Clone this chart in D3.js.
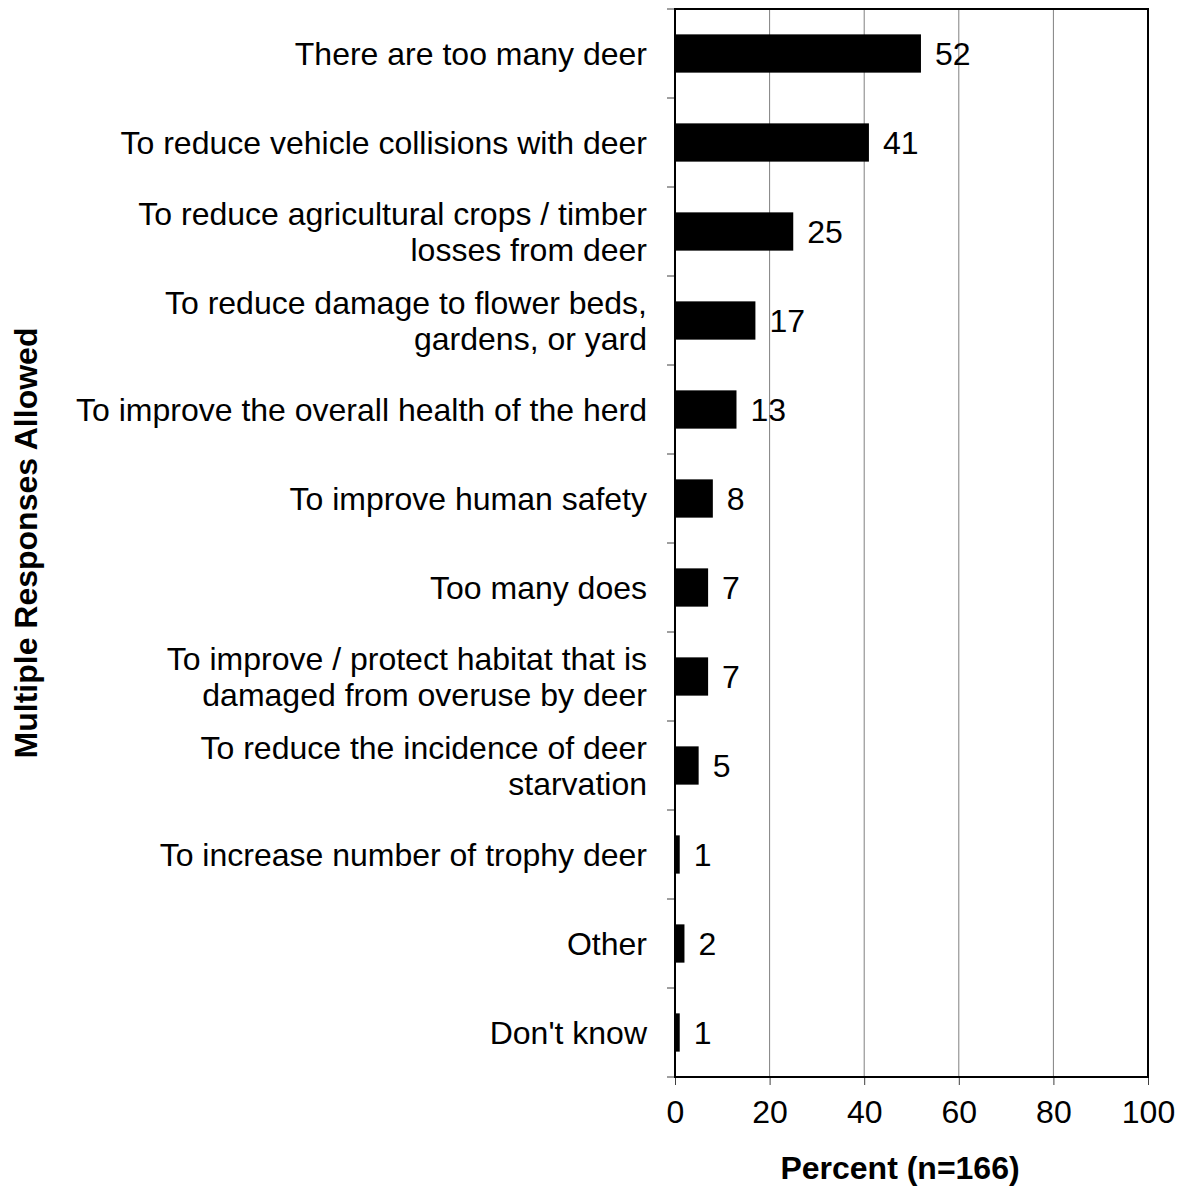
<!DOCTYPE html>
<html><head><meta charset="utf-8">
<script src="https://cdn.jsdelivr.net/npm/d3@7"></script>
<style>body{margin:0;background:#fff}svg{display:block}text{font-family:"Liberation Sans",Arial,sans-serif}</style>
</head><body><svg id="c" width="1180" height="1186"></svg>
<script>
const categories = [
  ["There are too many deer"],
  ["To reduce vehicle collisions with deer"],
  ["To reduce agricultural crops / timber","losses from deer"],
  ["To reduce damage to flower beds,","gardens, or yard"],
  ["To improve the overall health of the herd"],
  ["To improve human safety"],
  ["Too many does"],
  ["To improve / protect habitat that is","damaged from overuse by deer"],
  ["To reduce the incidence of deer","starvation"],
  ["To increase number of trophy deer"],
  ["Other"],
  ["Don't know"]
];
const values = [52, 41, 25, 17, 13, 8, 7, 7, 5, 1, 2, 1];
const xTicks = [0, 20, 40, 60, 80, 100];
const xTitle = "Percent (n=166)";
const yTitle = "Multiple Responses Allowed";

const svg = d3.select("#c");
const L = 675, R = 1148, T = 9, B = 1077;
const FS = 32;
const x = d3.scaleLinear().domain([0, 100]).range([L, R]);
const y = d3.scaleBand().domain(d3.range(categories.length)).range([T, B]).paddingInner(0.57).paddingOuter(0.285);
const band = (B - T) / categories.length;

// gridlines
svg.append("g").selectAll("line").data(xTicks.slice(1, -1)).join("line")
  .attr("x1", d => x(d)).attr("x2", d => x(d)).attr("y1", T).attr("y2", B)
  .attr("stroke", "#808080").attr("stroke-width", 1);

// bars
svg.append("g").selectAll("rect").data(values).join("rect")
  .attr("x", L).attr("y", (d, i) => y(i)).attr("width", d => x(d) - L).attr("height", y.bandwidth())
  .attr("fill", "#000");

// value labels
svg.append("g").selectAll("text").data(values).join("text")
  .attr("x", d => x(d) + 14).attr("y", (d, i) => y(i) + y.bandwidth() / 2)
  .attr("dy", "0.36em").attr("font-size", FS).text(d => d);

// y ticks at band boundaries
svg.append("g").selectAll("line").data(d3.range(categories.length + 1)).join("line")
  .attr("x1", L - 8).attr("x2", L).attr("y1", i => T + i * band).attr("y2", i => T + i * band)
  .attr("stroke", "#404040").attr("stroke-width", 1);

// x axis
const xa = svg.append("g").attr("transform", `translate(0,${B})`)
  .call(d3.axisBottom(x).tickValues(xTicks).tickSize(8).tickPadding(15));
xa.select(".domain").remove();
xa.selectAll(".tick line").attr("stroke", "#404040");
xa.selectAll(".tick text").attr("font-size", FS).attr("fill", "#000").attr("font-family", '"Liberation Sans",Arial,sans-serif');

// frame
svg.append("rect").attr("x", L).attr("y", T).attr("width", R - L).attr("height", B - T)
  .attr("fill", "none").attr("stroke", "#000").attr("stroke-width", 2);

// category labels
const lg = svg.append("g");
categories.forEach((lines, i) => {
  const cy = y(i) + y.bandwidth() / 2;
  const lh = 36;
  const t = lg.append("text").attr("text-anchor", "end").attr("font-size", FS);
  lines.forEach((s, j) => {
    t.append("tspan").attr("x", 647).attr("y", cy + (j - (lines.length - 1) / 2) * lh).attr("dy", "0.36em").text(s);
  });
});

// titles
svg.append("text").attr("x", 900).attr("y", 1167).attr("text-anchor", "middle")
  .attr("font-size", FS).attr("font-weight", "bold").attr("dy", "0.36em").text(xTitle);
svg.append("text").attr("transform", `translate(25,${(T + B) / 2}) rotate(-90)`).attr("text-anchor", "middle")
  .attr("font-size", FS).attr("font-weight", "bold").attr("dy", "0.36em").text(yTitle);
</script></body></html>
